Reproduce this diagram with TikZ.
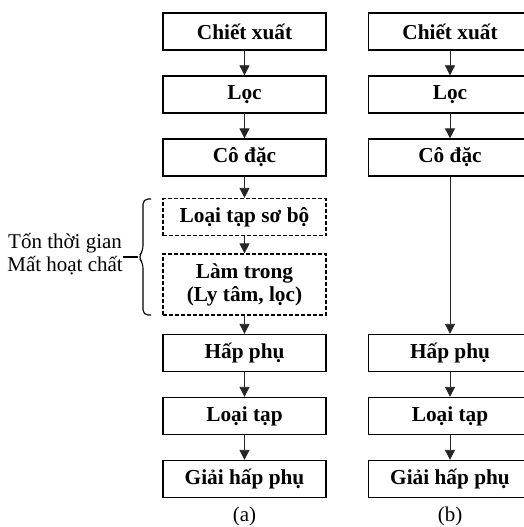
\documentclass[tikz,border=0pt]{standalone}
\usepackage{fontspec}
\setmainfont{Liberation Serif}
\usetikzlibrary{arrows.meta}
\begin{document}
\begin{tikzpicture}[x=1pt,y=-1pt,
  stepbox/.style={draw=black, line width=1.3pt, minimum width=163pt, minimum height=37pt,
    inner sep=0pt, font=\fontsize{21.3}{23}\selectfont\bfseries, align=center},
  dashbox/.style={stepbox, dash pattern=on 4pt off 2pt, line width=1.2pt},
  flow/.style={line width=0.8pt, draw=black!85, -{Triangle[width=10pt,length=10pt]}},
  plain/.style={font=\fontsize{21}{22.5}\selectfont, inner sep=0pt, align=center}]
\useasboundingbox (0,0) rectangle (524,527);
% column a
\node[stepbox] (a1) at (244.5,31.5) {Chiết xuất};
\node[stepbox] (a2) at (244.5,94.5) {Lọc};
\node[stepbox] (a3) at (244.5,157.5) {Cô đặc};
\node[dashbox] (a4) at (244.5,217) {Loại tạp sơ bộ};
\node[dashbox, minimum height=61pt] (a5) at (244.5,284.5) {Làm trong\\(Ly tâm, lọc)};
\node[stepbox] (a6) at (244.5,353) {Hấp phụ};
\node[stepbox] (a7) at (244.5,416) {Loại tạp};
\node[stepbox] (a8) at (244.5,479) {Giải hấp phụ};
\draw[flow] (a1) -- (a2);
\draw[flow] (a2) -- (a3);
\draw[flow] (a3) -- (a4);
\draw[flow] (a4) -- (a5);
\draw[flow] (a5) -- (a6);
\draw[flow] (a6) -- (a7);
\draw[flow] (a7) -- (a8);
% column b
\node[stepbox] (b1) at (450,31.5) {Chiết xuất};
\node[stepbox] (b2) at (450,94.5) {Lọc};
\node[stepbox] (b3) at (450,157.5) {Cô đặc};
\node[stepbox] (b6) at (450,353) {Hấp phụ};
\node[stepbox] (b7) at (450,416) {Loại tạp};
\node[stepbox] (b8) at (450,479) {Giải hấp phụ};
\draw[flow] (b1) -- (b2);
\draw[flow] (b2) -- (b3);
\draw[flow] (b3) -- (b6);
\draw[flow] (b6) -- (b7);
\draw[flow] (b7) -- (b8);
% brace and note
\coordinate (tip) at (138,257);
\node[plain, anchor=east] (note) at (123,254) {Tốn thời gian\\Mất hoạt chất};
\draw[line width=1.1pt, rounded corners=5pt] (151,199) -- (143,199) -- (143,251) -- (tip) -- (143,263) -- (143,315) -- (151,315);
\draw[line width=1.1pt] (note.east |- tip) -- (tip);
% labels
\node[plain, anchor=south] (la) at (244.5,526) {(a)};
\node[plain, anchor=south] (lb) at (450,526) {(b)};
\end{tikzpicture}
\end{document}
